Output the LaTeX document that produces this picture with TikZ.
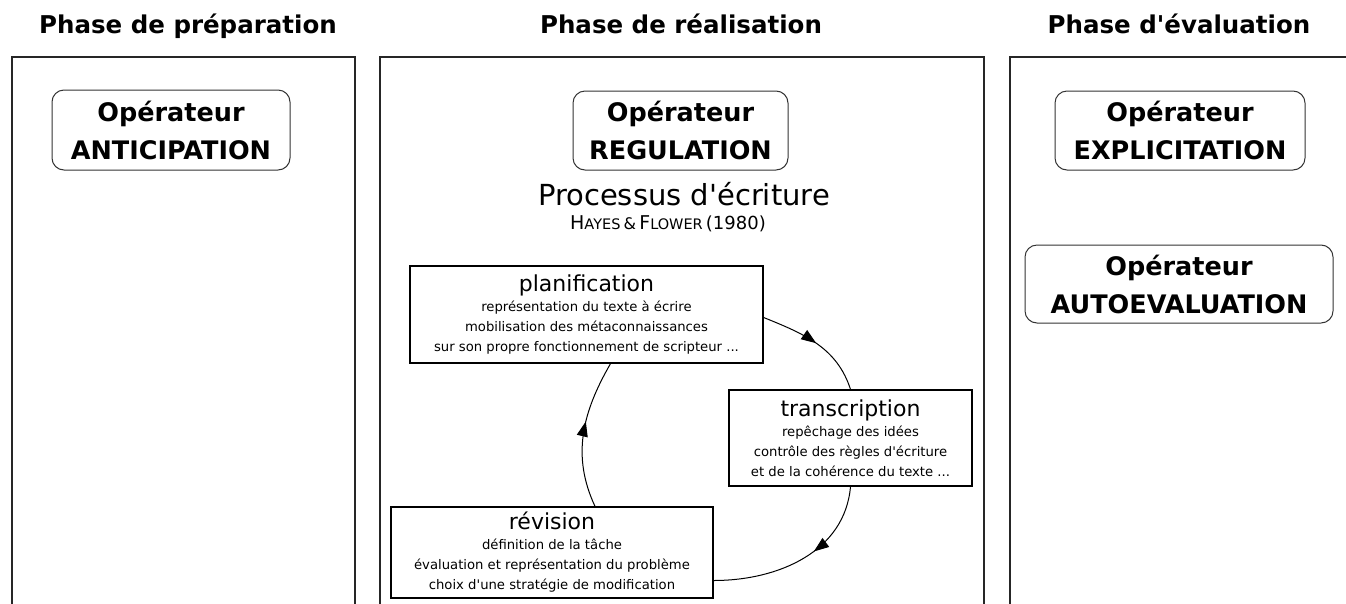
\documentclass[tikz,border=0pt]{standalone}
\usepackage{fontspec}
\setmainfont{DejaVu Sans}
\usetikzlibrary{arrows.meta,decorations.markings}

% straight apostrophe
\newcommand\apos{\textquotesingle}
% caps + reduced caps for the reference line
\newcommand\bigsmall[2]{{\fontsize{19}{19}\selectfont #1}{\fontsize{14.5}{15}\selectfont #2}}

\tikzset{
  panel/.style={draw=black!85, line width=1.8pt},
  phasetitle/.style={font=\bfseries\fontsize{24.5}{24}\selectfont, anchor=base, inner sep=0pt},
  operator/.style={draw=black!80, line width=1pt, rounded corners=12pt, align=center,
    font=\bfseries\fontsize{25.5}{38}\selectfont, inner sep=0pt},
  procbox/.style={draw=black, line width=1.3pt, align=center, inner sep=0pt,
    font=\fontsize{13.2}{20}\selectfont},
  cycle/.style={draw=black, line width=1pt, postaction={decorate},
    decoration={markings, mark=at position #1 with {\arrow{Triangle[length=15pt,width=11pt]}}}},
}
\newcommand\proctitle[1]{{\fontsize{22}{22}\selectfont #1}}

\begin{document}
\begin{tikzpicture}[x=1pt,y=1pt]
\useasboundingbox (0,0) rectangle (1346,-603);
\clip (0,0) rectangle (1346,-603);

% three phase panels, open at the bottom
\draw[panel] (12,-640) -- (12,-57) -- (355,-57) -- (355,-640);
\draw[panel] (380,-640) -- (380,-57) -- (984,-57) -- (984,-640);
\draw[panel] (1010,-640) -- (1010,-57) -- (1380,-57);

% phase headings
\node[phasetitle] (t1) at (188,-33) {Phase de préparation};
\node[phasetitle] (t2) at (681,-33) {Phase de réalisation};
\node[phasetitle] (t3) at (1179,-33) {Phase d\apos évaluation};

% operators
\node[operator, minimum width=238pt, minimum height=80pt] (anti) at (171,-130)
  {Opérateur\\ANTICIPATION};
\node[operator, minimum width=215pt, minimum height=79pt] (regu) at (680.5,-130.5)
  {Opérateur\\REGULATION};
\node[operator, minimum width=250pt, minimum height=79pt] (expl) at (1180,-130.5)
  {Opérateur\\EXPLICITATION};
\node[operator, minimum width=308pt, minimum height=78pt] (auto) at (1179,-284)
  {Opérateur\\AUTOEVALUATION};

% writing process heading
\node[anchor=base, inner sep=0pt, font=\fontsize{29}{29}\selectfont] (proc) at (684,-205)
  {Processus d\apos écriture};
\node[anchor=base, inner sep=0pt] (ref) at (668,-229)
  {\bigsmall{H}{AYES} {\fontsize{16}{16}\selectfont\&} \bigsmall{F}{LOWER} {\fontsize{18}{18}\selectfont(1980)}};

% the three sub-processes
\node[procbox, minimum width=353pt, minimum height=97pt] (plan) at (586.5,-314.5)
  {\proctitle{planification}\\
   représentation du texte à écrire\\
   mobilisation des métaconnaissances\\
   sur son propre fonctionnement de scripteur ...};
\node[procbox, minimum width=243pt, minimum height=96pt] (trans) at (850.5,-438)
  {\proctitle{transcription}\\
   repêchage des idées\\
   contrôle des règles d\apos écriture\\
   et de la cohérence du texte ...};
\node[procbox, minimum width=322pt, minimum height=91pt] (rev) at (552,-552.5)
  {\proctitle{révision}\\
   définition de la tâche\\
   évaluation et représentation du problème\\
   choix d\apos une stratégie de modification};

% cycle between the sub-processes
\draw[cycle=0.5] ([yshift=-3pt]plan.east) to[out=-22, in=108] (trans.north);
\draw[cycle=0.42] (trans.south) to[out=-95, in=0] ([yshift=-28pt]rev.east);
\draw[cycle=0.58] ([xshift=43pt]rev.north) to[out=115, in=-120] ([xshift=24pt]plan.south);
\end{tikzpicture}
\end{document}
